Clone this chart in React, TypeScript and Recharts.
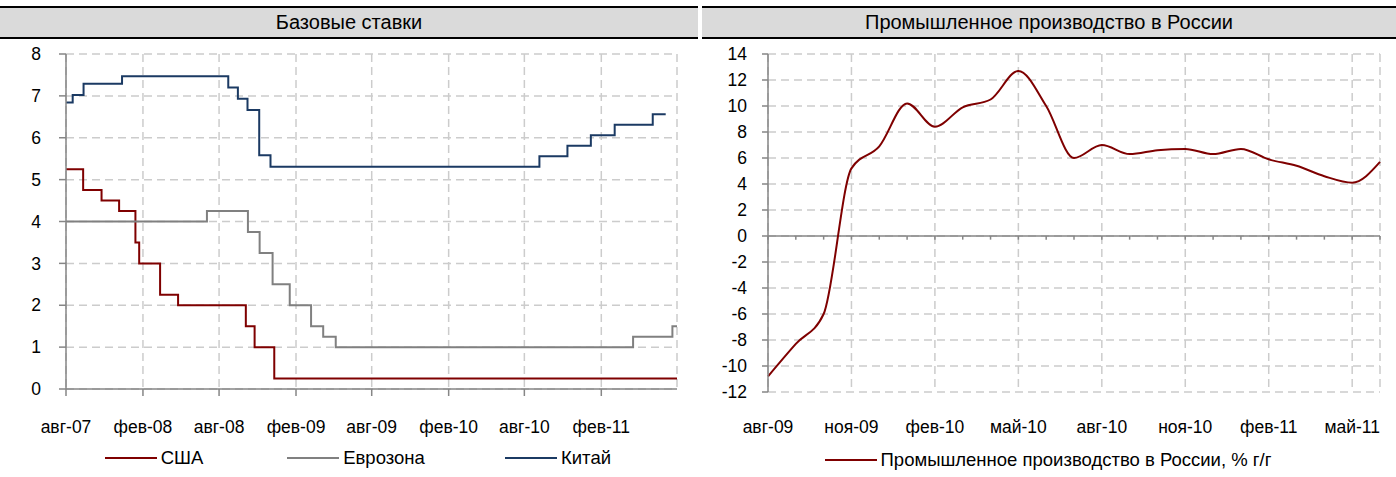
import React from 'react';
import { LineChart, Line, XAxis, YAxis, CartesianGrid, Legend, ReferenceLine } from 'recharts';

const FONT = "'Liberation Sans', Arial, sans-serif";
const AXIS = '#868686';
const GRID = '#cccccc';

// ---------- Left chart: policy rates ----------
const leftTitle = 'Базовые ставки';
const usName = 'США';
const usDates = ['2007-08-01', '2007-09-11', '2007-10-25', '2007-12-06', '2008-01-14', '2008-01-23', '2008-03-13', '2008-04-25', '2008-10-04', '2008-10-25', '2008-12-11', '2011-08-01'];
const usRates = [5.25, 4.75, 4.5, 4.25, 3.5, 3.0, 2.25, 2.0, 1.5, 1.0, 0.25, 0.25];

const euName = 'Еврозона';
const euDates = ['2007-08-01', '2008-07-03', '2008-10-09', '2008-11-06', '2008-12-07', '2009-01-17', '2009-03-09', '2009-04-07', '2009-05-07', '2011-04-18', '2011-07-21', '2011-08-01'];
const euRates = [4.0, 4.25, 3.75, 3.25, 2.5, 2.0, 1.5, 1.25, 1.0, 1.25, 1.5, 1.5];

const cnName = 'Китай';
const cnDates = ['2007-08-01', '2007-08-17', '2007-09-12', '2007-12-13', '2008-08-23', '2008-09-15', '2008-10-08', '2008-11-05', '2008-12-02', '2010-09-06', '2010-11-12', '2011-01-07', '2011-03-05', '2011-06-04', '2011-07-05'];
const cnRates = [6.84, 7.02, 7.29, 7.47, 7.2, 6.93, 6.66, 5.58, 5.31, 5.56, 5.81, 6.06, 6.31, 6.56, 6.56];

const leftLegendOrder = [usName, euName, cnName];
const leftTickDates = ['2007-08-01', '2008-02-01', '2008-08-01', '2009-02-01', '2009-08-01', '2010-02-01', '2010-08-01', '2011-02-01'];
const leftTickLabels = ['авг-07', 'фев-08', 'авг-08', 'фев-09', 'авг-09', 'фев-10', 'авг-10', 'фев-11'];
const leftDomainEnd = '2011-08-01';
const leftYTicks = [0, 1, 2, 3, 4, 5, 6, 7, 8];

// ---------- Right chart: industrial production ----------
const rightTitle = 'Промышленное производство в России';
const ipName = 'Промышленное производство в России, % г/г';
const rightMonths = ['авг-09', 'сен-09', 'окт-09', 'ноя-09', 'дек-09', 'янв-10', 'фев-10', 'мар-10', 'апр-10', 'май-10', 'июн-10', 'июл-10', 'авг-10', 'сен-10', 'окт-10', 'ноя-10', 'дек-10', 'янв-11', 'фев-11', 'мар-11', 'апр-11', 'май-11', 'июн-11'];
const ipValues = [-10.8, -8.3, -6.0, 5.2, 6.9, 10.2, 8.4, 9.9, 10.5, 12.7, 10.0, 6.0, 7.0, 6.3, 6.6, 6.7, 6.3, 6.7, 5.9, 5.4, 4.6, 4.1, 5.7];
const rightYTicks = [-12, -10, -8, -6, -4, -2, 0, 2, 4, 6, 8, 10, 12, 14];
const rightXTicks = [0, 3, 6, 9, 12, 15, 18, 21];

// ---------- helpers ----------
const BASE = Date.parse('2007-08-01');
const toDay = (s: string) => Math.round((Date.parse(s) - BASE) / 86400000);
const series = (dates: string[], vals: number[]) => dates.map((d, i) => ({ x: toDay(d), y: vals[i] }));

const usData = series(usDates, usRates);
const euData = series(euDates, euRates);
const cnData = series(cnDates, cnRates);
const leftTicks = leftTickDates.map(toDay);
const leftLabelMap: Record<number, string> = {};
leftTicks.forEach((t, i) => (leftLabelMap[t] = leftTickLabels[i]));

const ipData = ipValues.map((v, i) => ({ x: i, y: v }));

const tickStyle = { fill: '#000', fontSize: 17.5, fontFamily: FONT };

function TitleBar({ left, width, text }: { left: number; width: number; text: string }) {
  return (
    <div
      style={{
        position: 'absolute',
        left,
        top: 6,
        width,
        height: 29,
        background: '#dadada',
        borderTop: '2px solid #000',
        borderBottom: '2px solid #000',
        display: 'flex',
        alignItems: 'center',
        justifyContent: 'center',
        fontFamily: FONT,
        fontSize: 20,
        color: '#000',
      }}
    >
      {text}
    </div>
  );
}

const makeLegend = (cellWidth: number, padLeft: number, order?: string[]) => (props: any) => {
  const raw = props.payload || [];
  const payload = order
    ? order.map((n) => raw.find((p: any) => p.value === n)).filter(Boolean)
    : raw;
  return (
    <div style={{ display: 'flex', paddingLeft: padLeft, fontFamily: FONT, fontSize: 18.5, color: '#000' }}>
      {payload.map((p: any) => (
        <div key={p.value} style={{ width: cellWidth, display: 'flex', alignItems: 'center', justifyContent: 'center' }}>
          <svg width={52} height={4} style={{ marginRight: 4 }}>
            <line x1={0} y1={2} x2={52} y2={2} stroke={p.color} strokeWidth={2} />
          </svg>
          <span>{p.value}</span>
        </div>
      ))}
    </div>
  );
};

export default function App() {
  return (
    <div style={{ position: 'absolute', left: 0, top: 0, width: 1396, height: 477, background: '#fff', overflow: 'hidden' }}>
      <TitleBar left={0} width={698} text={leftTitle} />
      <TitleBar left={702} width={694} text={rightTitle} />

      <div style={{ position: 'absolute', left: 0, top: 0 }}>
        <LineChart width={700} height={477} margin={{ top: 54, right: 23, bottom: 58, left: 6 }}>
          <CartesianGrid stroke={GRID} strokeDasharray="8 5" strokeWidth={1.5} />
          <XAxis
            type="number"
            dataKey="x"
            domain={[0, toDay(leftDomainEnd)]}
            ticks={leftTicks}
            interval={0}
            tickFormatter={(v: number) => leftLabelMap[v] ?? ''}
            height={30}
            stroke={AXIS}
            strokeWidth={1.5}
            tickSize={7}
            tickMargin={25}
            tick={tickStyle}
            allowDataOverflow
          />
          <YAxis
            type="number"
            domain={[0, 8]}
            ticks={leftYTicks}
            interval={0}
            width={60}
            stroke={AXIS}
            strokeWidth={1.5}
            tickSize={7}
            tickMargin={18}
            tick={tickStyle}
          />
          <Line data={usData} dataKey="y" name={usName} type="stepAfter" stroke="#7f0000" strokeWidth={2} dot={false} activeDot={false} isAnimationActive={false} />
          <Line data={euData} dataKey="y" name={euName} type="stepAfter" stroke="#808080" strokeWidth={2} dot={false} activeDot={false} isAnimationActive={false} />
          <Line data={cnData} dataKey="y" name={cnName} type="stepAfter" stroke="#1b3a63" strokeWidth={2} dot={false} activeDot={false} isAnimationActive={false} />
          <Legend
            layout="horizontal"
            verticalAlign="middle"
            align="center"
            wrapperStyle={{ top: 447, left: 0, width: 700 }}
            content={makeLegend(202, 53, leftLegendOrder)}
          />
        </LineChart>
      </div>

      <div style={{ position: 'absolute', left: 700, top: 0 }}>
        <LineChart width={696} height={477} margin={{ top: 54, right: 16, bottom: 55, left: 8 }}>
          <CartesianGrid stroke={GRID} strokeDasharray="8 5" strokeWidth={1.5} />
          <XAxis
            type="number"
            dataKey="x"
            domain={[0, rightMonths.length - 1]}
            ticks={rightXTicks}
            interval={0}
            tickFormatter={(v: number) => rightMonths[v] ?? ''}
            height={30}
            axisLine={false}
            tickLine={false}
            tickSize={0}
            tickMargin={29}
            tick={tickStyle}
          />
          <YAxis
            type="number"
            domain={[-12, 14]}
            ticks={rightYTicks}
            interval={0}
            width={60}
            stroke={AXIS}
            strokeWidth={1.5}
            tickSize={6}
            tickMargin={15}
            tick={tickStyle}
          />
          <ReferenceLine y={0} stroke={AXIS} strokeWidth={1.5} />
          {rightMonths.map((m, i) => (
            <ReferenceLine key={m} segment={[{ x: i, y: 0 }, { x: i, y: -0.28 }]} stroke={AXIS} strokeWidth={1.5} />
          ))}
          <Line data={ipData} dataKey="y" name={ipName} type="monotone" stroke="#7f0000" strokeWidth={2} dot={false} activeDot={false} isAnimationActive={false} />
          <Legend
            layout="horizontal"
            verticalAlign="middle"
            align="center"
            wrapperStyle={{ top: 449, left: 0, width: 696 }}
            content={makeLegend(696, 0)}
          />
        </LineChart>
      </div>
    </div>
  );
}
